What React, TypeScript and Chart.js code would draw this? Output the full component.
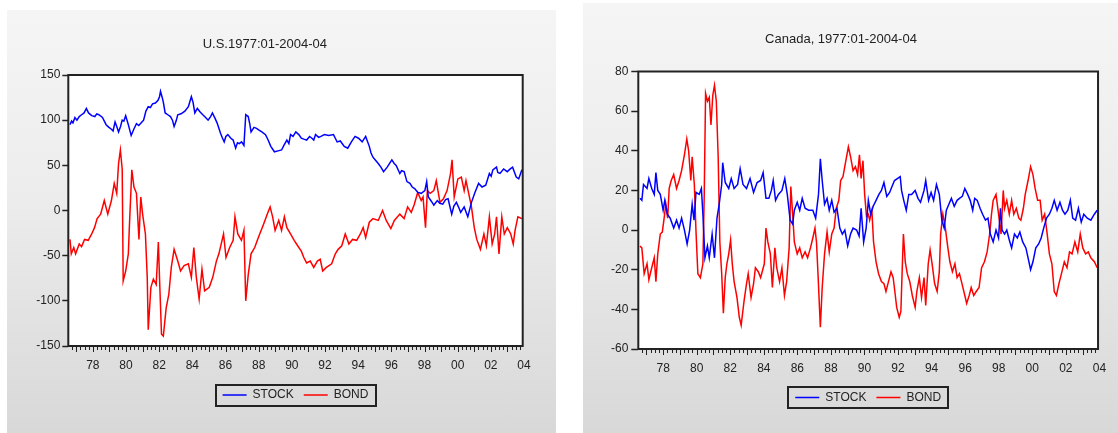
import React, { useEffect, useRef } from "react";
import { Chart, registerables } from "chart.js";
Chart.register(...registerables);

type P = [number, number];

const X_MIN = 1976.9;
const X_MAX = 2004.3;
const LABEL_YEARS = [1978, 1980, 1982, 1984, 1986, 1988, 1990, 1992, 1994, 1996, 1998, 2000, 2002, 2004];
const LABEL_OFFSET = 0.38;
const SERIES_NAMES = ["STOCK", "BOND"];
const US_TITLE = "U.S.1977:01-2004-04";
const CA_TITLE = "Canada, 1977:01-2004-04";
const US_Y_TICKS = [-150, 150, 50];
const CA_Y_TICKS = [-60, 80, 20];

const US_STOCK: P[] = [
  [1977.0, 95], [1977.1, 99], [1977.18, 97], [1977.3, 103], [1977.42, 100], [1977.56, 104], [1977.7, 106], [1977.85, 108], [1977.99, 113], [1978.12, 108],
  [1978.31, 105], [1978.5, 104], [1978.62, 107], [1978.74, 106], [1978.96, 103], [1979.18, 95], [1979.35, 92], [1979.5, 90], [1979.6, 88], [1979.72, 98],
  [1979.8, 94], [1979.93, 87], [1980.05, 93], [1980.15, 100], [1980.25, 99], [1980.36, 105], [1980.52, 95], [1980.69, 83], [1980.85, 90], [1981.01, 96],
  [1981.15, 94], [1981.34, 98], [1981.44, 100], [1981.58, 110], [1981.72, 115], [1981.85, 114], [1981.98, 118], [1982.15, 119], [1982.31, 122], [1982.4, 126],
  [1982.46, 132], [1982.55, 126], [1982.63, 120], [1982.74, 108], [1982.9, 106], [1983.06, 104], [1983.18, 100], [1983.28, 93], [1983.4, 99], [1983.5, 106],
  [1983.7, 107], [1983.93, 110], [1984.14, 115], [1984.32, 126], [1984.42, 120], [1984.53, 108], [1984.68, 113], [1984.85, 109], [1985.01, 106], [1985.18, 103],
  [1985.33, 100], [1985.48, 104], [1985.59, 108], [1985.75, 102], [1985.87, 97], [1986.09, 85], [1986.2, 80], [1986.3, 76], [1986.4, 82], [1986.52, 84],
  [1986.7, 80], [1986.84, 78], [1986.99, 69], [1987.1, 75], [1987.21, 74], [1987.35, 76], [1987.49, 72], [1987.6, 106], [1987.75, 104], [1987.85, 95],
  [1987.92, 87], [1988.1, 92], [1988.25, 91], [1988.4, 89], [1988.57, 87], [1988.79, 84], [1988.95, 78], [1989.11, 71], [1989.33, 65], [1989.55, 66],
  [1989.76, 67], [1989.9, 72], [1990.08, 78], [1990.2, 74], [1990.3, 84], [1990.45, 82], [1990.62, 87], [1990.8, 84], [1990.95, 80], [1991.1, 79],
  [1991.27, 78], [1991.45, 82], [1991.59, 80], [1991.7, 78], [1991.81, 84], [1992.0, 81], [1992.13, 82], [1992.35, 84], [1992.6, 83], [1992.89, 84],
  [1993.0, 80], [1993.11, 76], [1993.3, 77], [1993.54, 71], [1993.75, 69], [1993.97, 76], [1994.19, 82], [1994.4, 80], [1994.62, 76], [1994.83, 82],
  [1995.05, 71], [1995.15, 64], [1995.27, 59], [1995.45, 55], [1995.59, 52], [1995.75, 48], [1995.91, 43], [1996.13, 48], [1996.41, 56], [1996.55, 52],
  [1996.67, 50], [1996.89, 41], [1997.0, 44], [1997.15, 43], [1997.32, 32], [1997.5, 30], [1997.64, 26], [1997.8, 24], [1997.97, 20], [1998.18, 19],
  [1998.4, 22], [1998.51, 32], [1998.61, 15], [1998.8, 10], [1998.94, 6], [1999.15, 11], [1999.3, 8], [1999.48, 7], [1999.65, 12], [1999.8, 13],
  [2000.02, -4], [2000.15, 5], [2000.3, 9], [2000.45, 3], [2000.56, -2], [2000.77, 4], [2000.99, -7], [2001.21, 9], [2001.42, 20], [2001.64, 30],
  [2001.85, 26], [2002.07, 28], [2002.29, 41], [2002.4, 38], [2002.5, 45], [2002.72, 48], [2002.8, 42], [2002.93, 41], [2003.15, 46], [2003.37, 43],
  [2003.55, 46], [2003.69, 48], [2003.91, 37], [2004.06, 35], [2004.25, 45],
];

const US_BOND: P[] = [
  [1977.0, -32], [1977.08, -48], [1977.23, -41], [1977.34, -48], [1977.56, -37], [1977.7, -40], [1977.88, -32], [1978.1, -33], [1978.31, -26], [1978.48, -19],
  [1978.64, -9], [1978.85, -4], [1979.07, 11], [1979.28, -4], [1979.5, 11], [1979.67, 30], [1979.82, 19], [1979.93, 52], [1980.04, 67], [1980.15, 46],
  [1980.21, -78], [1980.36, -67], [1980.52, -48], [1980.58, -19], [1980.73, 45], [1980.86, 26], [1981.01, 19], [1981.16, -32], [1981.27, 15], [1981.38, -4],
  [1981.55, -26], [1981.66, -74], [1981.72, -132], [1981.88, -85], [1982.03, -76], [1982.2, -82], [1982.33, -35], [1982.42, -85], [1982.52, -137], [1982.63, -139],
  [1982.8, -108], [1982.96, -93], [1983.11, -63], [1983.28, -43], [1983.5, -56], [1983.67, -67], [1983.88, -61], [1984.14, -59], [1984.32, -74], [1984.47, -41],
  [1984.62, -74], [1984.79, -98], [1984.96, -65], [1985.12, -89], [1985.4, -85], [1985.61, -74], [1985.83, -56], [1985.98, -48], [1986.26, -26], [1986.41, -52],
  [1986.63, -41], [1986.84, -33], [1986.95, -7], [1987.12, -26], [1987.34, -33], [1987.49, -22], [1987.6, -100], [1987.75, -71], [1987.92, -48], [1988.14, -41],
  [1988.36, -30], [1988.68, -15], [1988.9, -4], [1989.07, 4], [1989.22, -7], [1989.37, -22], [1989.59, -11], [1989.76, -22], [1989.93, -7], [1990.08, -19],
  [1990.3, -26], [1990.52, -33], [1990.73, -39], [1990.95, -45], [1991.1, -52], [1991.27, -58], [1991.49, -56], [1991.7, -63], [1991.92, -56], [1992.09, -54],
  [1992.24, -67], [1992.46, -63], [1992.78, -59], [1993.0, -48], [1993.17, -43], [1993.39, -39], [1993.6, -26], [1993.82, -37], [1994.04, -32], [1994.29, -33],
  [1994.51, -26], [1994.68, -19], [1994.83, -30], [1995.05, -13], [1995.27, -9], [1995.59, -11], [1995.85, 0], [1996.07, -11], [1996.35, -20], [1996.56, -11],
  [1996.89, -4], [1997.15, -9], [1997.36, 4], [1997.58, -2], [1997.75, 6], [1997.97, 20], [1998.18, 11], [1998.29, 15], [1998.44, -19], [1998.55, 22],
  [1998.72, 19], [1998.94, 22], [1999.09, 33], [1999.31, 9], [1999.52, 13], [1999.74, 22], [1999.95, 41], [2000.04, 56], [2000.17, 15], [2000.39, 35],
  [2000.6, 37], [2000.77, 22], [2000.88, 33], [2001.03, 20], [2001.21, 4], [2001.38, -19], [2001.53, -32], [2001.75, -43], [2001.96, -26], [2002.11, -39],
  [2002.29, -7], [2002.46, -37], [2002.61, -26], [2002.72, -7], [2002.87, -48], [2003.04, -7], [2003.19, -26], [2003.37, -19], [2003.58, -26], [2003.73, -37],
  [2003.84, -22], [2004.01, -7], [2004.25, -9],
];

const CA_STOCK: P[] = [
  [1977.0, 16], [1977.11, 15], [1977.21, 23], [1977.42, 21], [1977.53, 26], [1977.7, 21], [1977.85, 18], [1977.95, 29], [1978.06, 20], [1978.21, 18],
  [1978.38, 10], [1978.48, 15], [1978.63, 8], [1978.8, 6], [1979.01, 1], [1979.18, 5], [1979.33, 1], [1979.48, 6], [1979.65, 0], [1979.81, -7],
  [1979.96, 0], [1980.11, 13], [1980.22, 5], [1980.34, 19], [1980.53, 18], [1980.66, 21], [1980.75, 8], [1980.87, -14], [1981.02, -8], [1981.13, -14],
  [1981.3, -2], [1981.44, -14], [1981.59, 6], [1981.72, 13], [1981.87, 23], [1981.93, 34], [1982.08, 24], [1982.29, 21], [1982.44, 26], [1982.61, 21],
  [1982.82, 23], [1982.97, 31], [1983.14, 23], [1983.35, 21], [1983.56, 26], [1983.77, 19], [1983.98, 24], [1984.19, 25], [1984.34, 29], [1984.51, 16],
  [1984.68, 16], [1984.83, 20], [1984.94, 25], [1985.08, 15], [1985.25, 18], [1985.46, 20], [1985.63, 26], [1985.78, 18], [1985.95, 5], [1986.1, 3],
  [1986.2, 10], [1986.37, 14], [1986.52, 10], [1986.67, 16], [1986.84, 11], [1987.05, 10], [1987.3, 10], [1987.47, 6], [1987.64, 18], [1987.75, 36],
  [1987.86, 25], [1988.0, 13], [1988.15, 16], [1988.28, 10], [1988.43, 15], [1988.57, 9], [1988.74, 11], [1988.91, 1], [1989.06, -2], [1989.21, 0],
  [1989.38, -8], [1989.55, -2], [1989.7, 1], [1989.91, 0], [1990.06, -3], [1990.18, 11], [1990.33, -6], [1990.48, 1], [1990.61, 15], [1990.75, 8],
  [1990.9, 12], [1991.07, 15], [1991.24, 18], [1991.39, 20], [1991.54, 24], [1991.71, 17], [1991.88, 19], [1992.02, 22], [1992.17, 25], [1992.34, 26],
  [1992.51, 27], [1992.59, 20], [1992.72, 15], [1992.87, 10], [1993.02, 18], [1993.19, 18], [1993.4, 20], [1993.57, 16], [1993.72, 14], [1993.93, 20],
  [1994.03, 25], [1994.2, 15], [1994.35, 19], [1994.5, 15], [1994.67, 23], [1994.84, 18], [1994.99, 5], [1995.13, 1], [1995.26, 10], [1995.41, 13],
  [1995.56, 16], [1995.73, 12], [1995.9, 15], [1996.04, 16], [1996.21, 17], [1996.36, 21], [1996.53, 18], [1996.68, 15], [1996.83, 10], [1996.95, 16],
  [1997.1, 15], [1997.27, 11], [1997.42, 8], [1997.59, 5], [1997.74, 6], [1997.88, -2], [1998.05, -6], [1998.22, 0], [1998.37, -4], [1998.48, 11],
  [1998.58, 0], [1998.73, -2], [1998.86, 0], [1999.01, -5], [1999.15, -9], [1999.32, -2], [1999.49, -4], [1999.64, -1], [1999.81, -6], [2000.0, -9],
  [2000.13, -14], [2000.28, -20], [2000.42, -16], [2000.59, -9], [2000.76, -7], [2000.91, -4], [2001.06, 1], [2001.23, 6], [2001.4, 8], [2001.55, 11],
  [2001.69, 15], [2001.86, 10], [2002.03, 14], [2002.18, 10], [2002.33, 8], [2002.5, 10], [2002.65, 15], [2002.79, 6], [2002.96, 5], [2003.13, 11],
  [2003.3, 4], [2003.45, 8], [2003.66, 6], [2003.87, 5], [2004.08, 8], [2004.25, 10],
];

const CA_BOND: P[] = [
  [1977.0, -8], [1977.11, -9], [1977.25, -22], [1977.42, -17], [1977.53, -25], [1977.7, -19], [1977.85, -14], [1977.95, -26], [1978.06, -12], [1978.21, -2],
  [1978.33, -1], [1978.44, 6], [1978.54, 13], [1978.65, 6], [1978.74, 21], [1978.86, 25], [1979.01, 28], [1979.18, 21], [1979.33, 25], [1979.48, 30],
  [1979.65, 38], [1979.79, 46], [1979.9, 40], [1980.03, 25], [1980.11, 37], [1980.24, 23], [1980.34, -1], [1980.45, -22], [1980.6, -24], [1980.75, -17],
  [1980.83, 18], [1980.91, 69], [1981.02, 65], [1981.13, 67], [1981.23, 53], [1981.34, 68], [1981.44, 73], [1981.55, 65], [1981.66, 37], [1981.76, -6],
  [1981.87, -22], [1981.97, -42], [1982.08, -24], [1982.18, -17], [1982.29, -12], [1982.4, -5], [1982.5, -17], [1982.61, -26], [1982.78, -34], [1982.92, -44],
  [1983.03, -48], [1983.2, -36], [1983.35, -27], [1983.45, -22], [1983.62, -34], [1983.77, -27], [1983.88, -19], [1984.05, -21], [1984.19, -24], [1984.41, -17],
  [1984.51, 1], [1984.62, -6], [1984.77, -12], [1984.89, -29], [1985.04, -9], [1985.15, -19], [1985.32, -26], [1985.46, -19], [1985.61, -33], [1985.74, -26],
  [1985.89, -9], [1985.99, 22], [1986.1, 8], [1986.2, -6], [1986.37, -12], [1986.52, -9], [1986.67, -14], [1986.84, -11], [1986.99, -14], [1987.16, -9],
  [1987.3, -4], [1987.43, 1], [1987.52, -6], [1987.62, -24], [1987.75, -49], [1987.86, -29], [1988.0, -12], [1988.15, -1], [1988.28, -11], [1988.43, -2],
  [1988.57, 1], [1988.7, 11], [1988.85, 15], [1988.96, 25], [1989.1, 27], [1989.27, 35], [1989.42, 42], [1989.55, 37], [1989.7, 30], [1989.84, 32],
  [1989.97, 28], [1990.08, 38], [1990.18, 26], [1990.29, 35], [1990.39, 18], [1990.5, 7], [1990.61, 8], [1990.69, 5], [1990.82, 10], [1990.92, -6],
  [1991.07, -16], [1991.22, -22], [1991.39, -26], [1991.54, -27], [1991.66, -31], [1991.81, -26], [1991.96, -21], [1992.09, -24], [1992.19, -31], [1992.3, -39],
  [1992.45, -44], [1992.55, -41], [1992.62, -22], [1992.7, -2], [1992.81, -16], [1992.93, -22], [1993.08, -26], [1993.23, -33], [1993.4, -39], [1993.5, -31],
  [1993.65, -24], [1993.78, -34], [1993.93, -24], [1994.03, -38], [1994.18, -17], [1994.29, -10], [1994.41, -17], [1994.56, -27], [1994.71, -31], [1994.84, -21],
  [1994.92, -2], [1995.05, 8], [1995.2, 1], [1995.35, -9], [1995.47, -16], [1995.62, -21], [1995.77, -17], [1995.9, -24], [1996.04, -22], [1996.19, -27],
  [1996.36, -33], [1996.47, -37], [1996.62, -33], [1996.74, -29], [1996.89, -33], [1997.04, -31], [1997.21, -29], [1997.36, -19], [1997.53, -16], [1997.69, -11],
  [1997.84, -2], [1997.95, 8], [1998.05, 15], [1998.22, 18], [1998.37, 8], [1998.52, -2], [1998.65, 20], [1998.73, 11], [1998.86, 15], [1999.01, 8],
  [1999.15, 15], [1999.28, 8], [1999.43, 11], [1999.58, 6], [1999.7, 5], [1999.85, 11], [1999.96, 18], [2000.13, 25], [2000.28, 32], [2000.42, 28],
  [2000.55, 21], [2000.7, 15], [2000.85, 15], [2000.97, 5], [2001.12, 8], [2001.27, -2], [2001.4, -12], [2001.55, -17], [2001.69, -31], [2001.82, -33],
  [2001.97, -27], [2002.12, -22], [2002.29, -16], [2002.45, -19], [2002.6, -11], [2002.75, -12], [2002.92, -6], [2003.09, -11], [2003.24, -2], [2003.39, -9],
  [2003.56, -12], [2003.72, -11], [2003.87, -14], [2004.08, -16], [2004.25, -19],
];

const FONT = "'Liberation Sans', Arial, Helvetica, sans-serif";
const INK = "#222222";

interface PanelProps {
  title: string;
  stock: P[];
  bond: P[];
  yTicks: number[];
  left: number;
  top: number;
  width: number;
  height: number;
  yAxisWidth: number;
  xAxisHeight: number;
  padRight: number;
  padBottom: number;
  titleTop: number;
  titleBottom: number;
  tickLen: number;
  tickPad: number;
}

function Panel(p: PanelProps) {
  const ref = useRef<HTMLCanvasElement | null>(null);
  useEffect(() => {
    if (!ref.current) return;
    const decor = {
      id: "decor",
      beforeDraw(chart: any) {
        const { ctx, chartArea: a } = chart;
        ctx.save();
        ctx.fillStyle = "#ffffff";
        ctx.fillRect(a.left, a.top, a.right - a.left, a.bottom - a.top);
        ctx.restore();
      },
      afterDatasetsDraw(chart: any) {
        const { ctx, chartArea: a } = chart;
        const xs = chart.scales.x;
        ctx.save();
        ctx.strokeStyle = INK;
        ctx.lineWidth = 2;
        ctx.strokeRect(a.left, a.top, a.right - a.left, a.bottom - a.top);
        ctx.lineWidth = 1;
        ctx.beginPath();
        for (let y = 1976; y <= 2005; y++) {
          for (let q = 0; q < 4; q++) {
            const v = y + LABEL_OFFSET + q * 0.25;
            if (v < X_MIN || v > X_MAX) continue;
            const px = Math.round(xs.getPixelForValue(v)) + 0.5;
            const len = q === 0 ? 6 : 4;
            ctx.moveTo(px, a.bottom);
            ctx.lineTo(px, a.bottom + len);
          }
        }
        ctx.stroke();
        ctx.restore();
      },
      afterDraw(chart: any) {
        const lg = chart.legend;
        if (!lg || !lg.legendHitBoxes || !lg.legendHitBoxes.length) return;
        const hb = lg.legendHitBoxes;
        let l = Infinity, r = -Infinity, c = 0;
        hb.forEach((h: any) => {
          l = Math.min(l, h.left);
          r = Math.max(r, h.left + h.width);
          c = h.top + h.height / 2;
        });
        const { ctx } = chart;
        ctx.save();
        ctx.strokeStyle = INK;
        ctx.lineWidth = 2;
        ctx.strokeRect(Math.round(l - 7), Math.round(c - 10.5), Math.round(r - l + 14), 21);
        ctx.restore();
      },
    };
    const [yMin, yMax, yStep] = p.yTicks;
    const chart = new Chart(ref.current, {
      type: "line",
      data: {
        datasets: [
          {
            label: SERIES_NAMES[0],
            data: p.stock.map(([x, y]) => ({ x, y })),
            borderColor: "#0000ff",
            backgroundColor: "#0000ff",
            borderWidth: 1.5,
            pointRadius: 0,
            tension: 0,
          },
          {
            label: SERIES_NAMES[1],
            data: p.bond.map(([x, y]) => ({ x, y })),
            borderColor: "#ff0000",
            backgroundColor: "#ff0000",
            borderWidth: 1.5,
            pointRadius: 0,
            tension: 0,
          },
        ],
      },
      options: {
        responsive: false,
        animation: false,
        devicePixelRatio: 1,
        parsing: false,
        layout: { padding: { top: 0, left: 0, right: p.padRight, bottom: p.padBottom } },
        plugins: {
          title: {
            display: true,
            text: p.title,
            color: INK,
            font: { family: FONT, size: 13, weight: "normal" },
            padding: { top: p.titleTop, bottom: p.titleBottom },
          },
          legend: {
            display: true,
            position: "bottom",
            fullSize: false,
            labels: {
              usePointStyle: true,
              pointStyle: "line",
              pointStyleWidth: 24,
              padding: 10,
              color: INK,
              font: { family: FONT, size: 12 },
            },
          },
          tooltip: { enabled: false },
        },
        scales: {
          x: {
            type: "linear",
            min: X_MIN,
            max: X_MAX,
            afterBuildTicks: (s: any) => {
              s.ticks = LABEL_YEARS.map((y) => ({ value: y + LABEL_OFFSET }));
            },
            afterFit: (s: any) => {
              s.height = p.xAxisHeight;
            },
            grid: { display: false, drawTicks: false },
            border: { display: false },
            ticks: {
              autoSkip: false,
              maxRotation: 0,
              padding: 12,
              color: INK,
              font: { family: FONT, size: 12 },
              callback: (v: any) => String(Math.floor(Number(v)) % 100).padStart(2, "0"),
            },
          },
          y: {
            type: "linear",
            min: yMin,
            max: yMax,
            afterFit: (s: any) => {
              s.width = p.yAxisWidth;
            },
            grid: {
              display: true,
              drawOnChartArea: false,
              drawTicks: true,
              tickLength: p.tickLen,
              tickColor: INK,
              tickWidth: 1.5,
            },
            border: { display: false },
            ticks: {
              stepSize: yStep,
              padding: p.tickPad,
              color: INK,
              font: { family: FONT, size: 12 },
              callback: (v: any) => String(v),
            },
          },
        },
      } as any,
      plugins: [decor],
    });
    return () => chart.destroy();
  }, []);
  return (
    <div
      style={{
        position: "absolute",
        left: p.left,
        top: p.top,
        width: p.width,
        height: p.height,
        background: "linear-gradient(to bottom, #f5f5f5 0%, #ececec 45%, #d8d8d8 100%)",
      }}
    >
      <canvas ref={ref} width={p.width} height={p.height} style={{ display: "block", width: p.width, height: p.height }} />
    </div>
  );
}

export default function App() {
  return (
    <div style={{ position: "absolute", left: 0, top: 0, width: 1118, height: 433, background: "#ffffff", overflow: "hidden" }}>
      <Panel
        title={US_TITLE}
        stock={US_STOCK}
        bond={US_BOND}
        yTicks={US_Y_TICKS}
        left={7}
        top={10}
        width={549}
        height={423}
        yAxisWidth={61.3}
        xAxisHeight={33}
        padRight={33.3}
        padBottom={22}
        titleTop={26.2}
        titleBottom={23.2}
        tickLen={6}
        tickPad={2}
      />
      <Panel
        title={CA_TITLE}
        stock={CA_STOCK}
        bond={CA_BOND}
        yTicks={CA_Y_TICKS}
        left={583}
        top={3}
        width={535}
        height={430}
        yAxisWidth={55.3}
        xAxisHeight={32.5}
        padRight={19}
        padBottom={19.5}
        titleTop={28.7}
        titleBottom={24.2}
        tickLen={7}
        tickPad={3}
      />
    </div>
  );
}
